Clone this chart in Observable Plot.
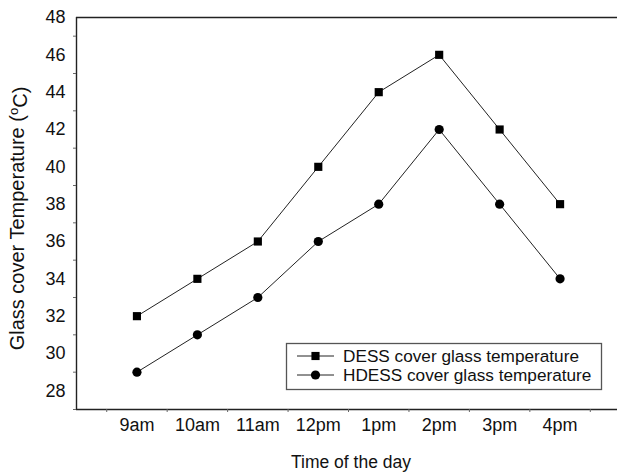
<!DOCTYPE html>
<html>
<head>
<meta charset="utf-8">
<script src="https://cdn.jsdelivr.net/npm/d3@7"></script>
<script src="https://cdn.jsdelivr.net/npm/@observablehq/plot@0.6"></script>
<style>
  body { margin: 0; background: white; }
  #wrap { position: relative; width: 617px; height: 475px; font-family: "Liberation Sans", Arial, sans-serif; }
  #wrap svg text { font-size: 18px; }
  #wrap svg text.xtitle { font-size: 17.5px; }
  #wrap svg text.ytitle { font-size: 20px; }
  #wrap svg text.legtext { font-size: 17.2px; }
  #legend { position: absolute; left: 0; top: 0; pointer-events: none; }
</style>
</head>
<body>
<div id="wrap"></div>
<script>
const times = ["9am", "10am", "11am", "12pm", "1pm", "2pm", "3pm", "4pm"];
const dess = [32, 34, 36, 40, 44, 46, 42, 38];
const hdess = [29, 31, 33, 36, 38, 42, 38, 34];
const seriesNames = ["DESS cover glass temperature", "HDESS cover glass temperature"];
const seriesSymbols = ["square", "circle"];
const yTicks = [28, 30, 32, 34, 36, 38, 40, 42, 44, 46, 48];
const yMinor = [27, 29, 31, 33, 35, 37, 39, 41, 43, 45, 47];
const xTitle = "Time of the day";
const yTitle = "Glass cover Temperature (oC)";

const rows = [];
times.forEach((t, i) => {
  rows.push({ i: i + 1, v: dess[i], s: seriesNames[0] });
  rows.push({ i: i + 1, v: hdess[i], s: seriesNames[1] });
});
const xPos = d3.range(1, times.length + 1);
const xHalf = d3.range(0.5, times.length + 1, 1);
const font = '"Liberation Sans", Arial, sans-serif';

const chart = Plot.plot({
  width: 617,
  height: 475,
  marginLeft: 76,
  marginRight: 0,
  marginTop: 17,
  marginBottom: 66,
  style: { fontFamily: font, fontSize: "18px", color: "#111", background: "white" },
  x: { domain: [0, 8.95], axis: null },
  y: { domain: [27, 48], axis: null },
  marks: [
    Plot.ruleY([48, 27], { stroke: "#222", strokeWidth: 1.4 }),
    Plot.ruleX([0], { stroke: "#222", strokeWidth: 1.4 }),
    Plot.axisY(yTicks, { tickSize: 0, tickPadding: 11, fontSize: 18, label: null }),
    Plot.axisY(yMinor, { tickSize: 3, tickFormat: () => "", label: null, stroke: "#666" }),
    Plot.axisX(xPos, { tickSize: 0, tickPadding: 9, fontSize: 18, label: null, tickFormat: (d) => times[d - 1] }),
    Plot.axisX(xHalf, { tickSize: 3, tickFormat: () => "", label: null, stroke: "#666" }),
    Plot.line(rows, { x: "i", y: "v", z: "s", stroke: "#222", strokeWidth: 1 }),
    Plot.dot(rows, { x: "i", y: "v", symbol: (d) => seriesSymbols[seriesNames.indexOf(d.s)], r: 4.6, fill: "black", stroke: "none" }),
    Plot.text([xTitle], { frameAnchor: "bottom", dy: 53, dx: 4, lineAnchor: "middle", textAnchor: "middle", fill: "#111", className: "xt" }),
    Plot.text([yTitle], { frameAnchor: "left", dx: -59, dy: 5, rotate: -90, lineAnchor: "middle", textAnchor: "middle", fill: "#111" })
  ]
});

document.getElementById("wrap").appendChild(chart);

d3.select(chart).selectAll("text").filter(function () { return this.textContent === xTitle; })
  .classed("xtitle", true);

// superscript "o" in the y title
d3.select(chart).selectAll("text").filter(function () { return this.textContent === yTitle; })
  .classed("ytitle", true)
  .each(function () {
    const t = d3.select(this);
    t.text(null);
    t.append("tspan").text("Glass cover Temperature (");
    t.append("tspan").attr("dy", "-0.45em").style("font-size", "13px").text("o");
    t.append("tspan").attr("dy", "0.45em").style("font-size", "20px").text("C)");
  });

// legend box
const lg = d3.select("#wrap").append("svg").attr("id", "legend").attr("width", 617).attr("height", 475)
  .style("font-family", font);
lg.append("rect").attr("x", 286.5).attr("y", 343.5).attr("width", 315).attr("height", 46)
  .attr("fill", "white").attr("stroke", "#555").attr("stroke-width", 1.3);
seriesNames.forEach((name, k) => {
  const cy = 356 + k * 19;
  lg.append("line").attr("x1", 297).attr("x2", 334).attr("y1", cy).attr("y2", cy).attr("stroke", "#222");
  lg.append("path").attr("d", d3.symbol(seriesSymbols[k] === "square" ? d3.symbolSquare : d3.symbolCircle, Math.PI * 4.6 * 4.6)())
    .attr("transform", `translate(315.5,${cy})`).attr("fill", "black");
  lg.append("text").attr("class", "legtext").attr("x", 343).attr("y", cy).attr("dy", "0.35em").attr("fill", "#111").text(name);
});
</script>
</body>
</html>
